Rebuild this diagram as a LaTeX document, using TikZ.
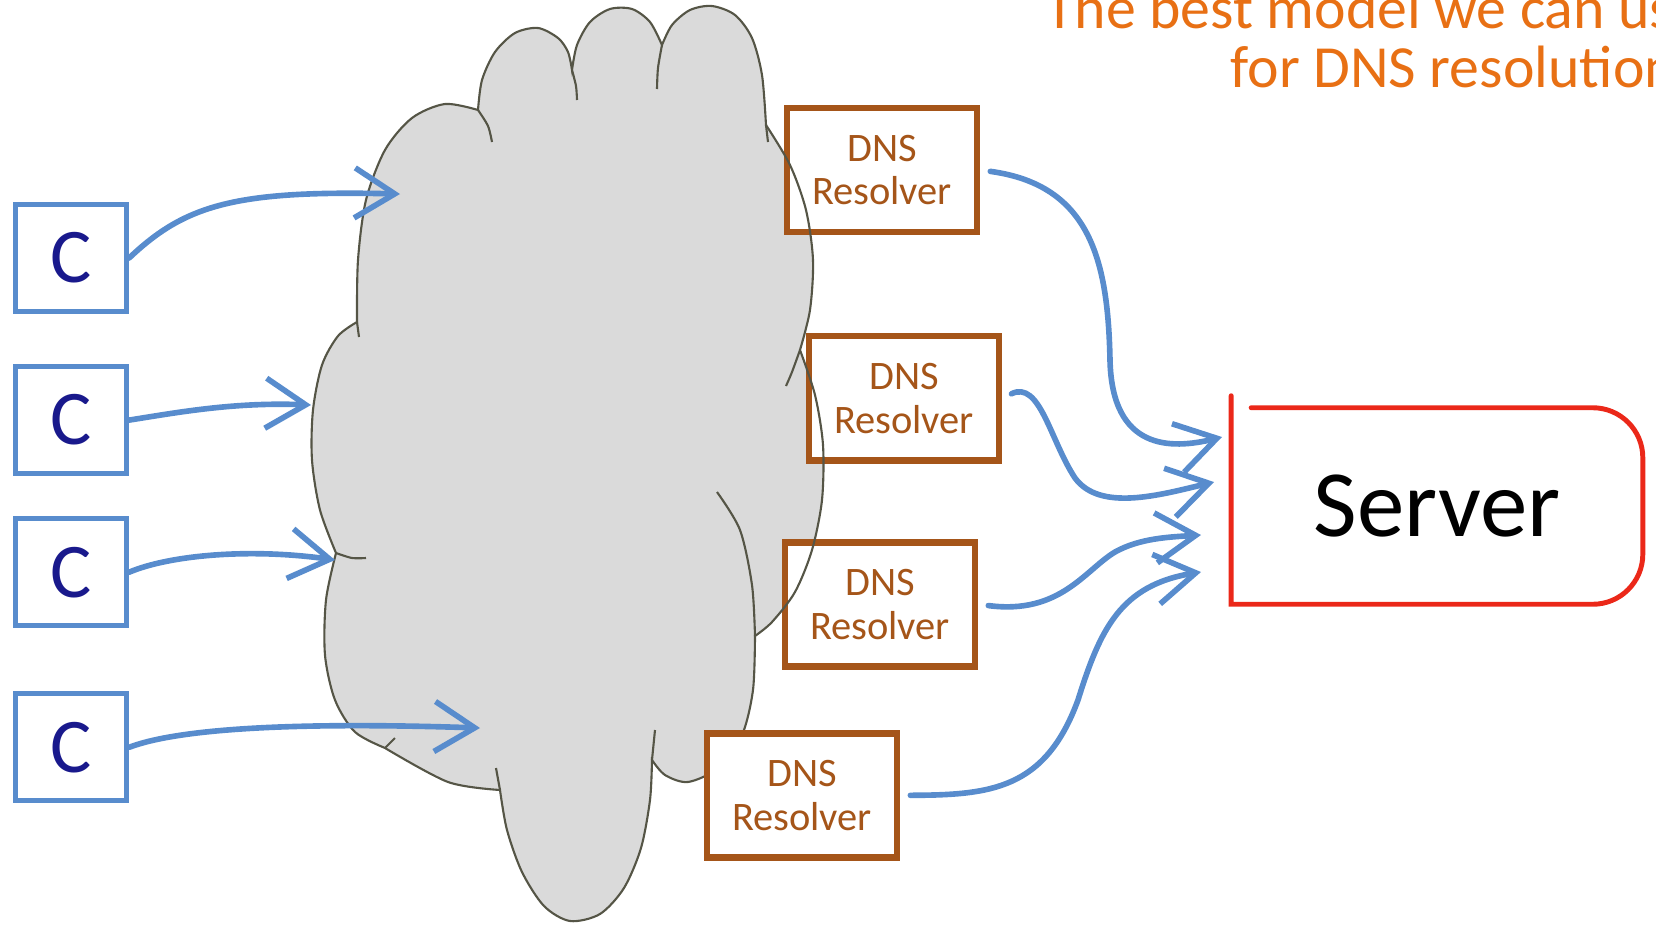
\documentclass[tikz,border=0pt]{standalone}
\usepackage{fontspec}
\setmainfont{Carlito}
\usepackage{tikz}
\usetikzlibrary{arrows.meta}
\definecolor{clientblue}{RGB}{88,140,205}
\definecolor{navyc}{RGB}{25,25,140}
\definecolor{resbrown}{RGB}{165,85,25}
\definecolor{serverred}{RGB}{235,40,25}
\definecolor{cloudgray}{RGB}{218,218,218}
\definecolor{cloudedge}{RGB}{85,85,70}
\definecolor{mottoorange}{RGB}{232,112,20}
\tikzstyle{client} = [rectangle, minimum width=1.11cm, minimum height=1.07cm, text centered, draw=clientblue, fill=white, line width=1.5pt, text=navyc, font=\fontsize{22}{22}\selectfont]
\tikzstyle{resolver} = [rectangle, minimum width=1.9cm, minimum height=1.24cm, align=center, draw=resbrown, fill=white, line width=1.9pt, text=resbrown, font=\fontsize{11.5}{12.5}\selectfont]
\tikzstyle{server} = [rectangle, minimum width=4.1cm, minimum height=1.95cm, text centered, font=\fontsize{27}{27}\selectfont]
\tikzstyle{serverline} = [draw=serverred, line width=1.4pt, line cap=round]
\tikzstyle{cloudfill} = [fill=cloudgray]
\tikzstyle{cloudline} = [draw=cloudedge, line width=0.6pt]
\tikzstyle{arrow} = [draw=clientblue, line width=1.6pt, line cap=round, -{Straight Barb[length=4mm, width=5mm]}]
\tikzstyle{heading} = [text=mottoorange, anchor=base west, inner sep=0pt, font=\fontsize{17}{17}\selectfont]

\begin{document}
\begin{tikzpicture}[x=0.01cm, y=-0.01cm, node distance=2cm]
        \useasboundingbox (0,0) rectangle (1656,927);

        % the cloud
        \path [save path=\cloudpath] plot[smooth] coordinates {(357,322) (358,260) (366,200) (385,150) (412,118) (445,104) (478,110)}
            -- plot[smooth] coordinates {(478,110) (482,80) (495,52) (515,33) (538,28) (558,38) (568,52) (572,70)}
            -- plot[smooth] coordinates {(572,70) (577,45) (590,22) (610,9) (632,9) (650,22) (662,45)}
            -- plot[smooth] coordinates {(662,45) (672,25) (690,10) (712,6) (735,15) (752,38) (762,75) (766,125)}
            -- plot[smooth] coordinates {(766,125) (790,165) (806,210) (813,260) (810,310) (800,350)}
            -- plot[smooth] coordinates {(800,350) (815,395) (823,445) (822,500) (812,550) (795,592) (772,622) (755,636)}
            -- plot[smooth] coordinates {(755,636) (753,690) (742,735) (718,768) (688,782) (665,775) (652,760)}
            -- plot[smooth] coordinates {(652,760) (650,800) (641,848) (624,888) (600,914) (570,921) (544,906) (522,872) (507,830) (500,790)}
            -- plot[smooth] coordinates {(500,790) (448,782) (385,748)}
            -- plot[smooth] coordinates {(385,748) (355,732) (335,700) (325,655) (326,600) (336,553)}
            -- plot[smooth] coordinates {(336,553) (320,510) (312,460) (313,410) (322,365) (338,336) (357,322)}
            -- cycle;
        \path [cloudfill, use path=\cloudpath];

        \node (res1) [resolver] at (882,170) {DNS\\Resolver};
        \node (res2) [resolver, below of=res1, xshift=0.22cm, yshift=-0.28cm] {DNS\\Resolver};
        \node (res3) [resolver, below of=res2, xshift=-0.24cm, yshift=-0.06cm] {DNS\\Resolver};

        \path [cloudline, use path=\cloudpath];
        \draw [cloudline] plot[smooth] coordinates {(478,110) (488,126) (492,142)};
        \draw [cloudline] plot[smooth] coordinates {(572,70) (576,86) (577,100)};
        \draw [cloudline] plot[smooth] coordinates {(662,45) (658,68) (657,89)};
        \draw [cloudline] plot[smooth] coordinates {(766,125) (768,142)};
        \draw [cloudline] plot[smooth] coordinates {(800,350) (792,372) (786,386)};
        \draw [cloudline] plot[smooth] coordinates {(717,492) (740,530) (752,585) (755,636)};
        \draw [cloudline] plot[smooth] coordinates {(652,760) (655,730)};
        \draw [cloudline] plot[smooth] coordinates {(500,790) (496,768)};
        \draw [cloudline] plot[smooth] coordinates {(385,748) (395,738)};
        \draw [cloudline] plot[smooth] coordinates {(336,553) (352,558) (366,558)};
        \draw [cloudline] plot[smooth] coordinates {(357,322) (359,337)};

        \node (res4) [resolver, below of=res3, xshift=-0.78cm, yshift=0.09cm] {DNS\\Resolver};

        \node (cl1) [client] at (71,258) {C};
        \node (cl2) [client, below of=cl1, yshift=0.38cm] {C};
        \node (cl3) [client, below of=cl2, yshift=0.48cm] {C};
        \node (cl4) [client, below of=cl3, yshift=0.25cm] {C};

        \node (srv) [server] at (1437,506) {Server};
        \draw [serverline] ([yshift=0.12cm]srv.north west) -- (srv.south west) -- (srv.south) [rounded corners=0.5cm] -- (srv.south east) -- (srv.north east) -- (srv.north) [sharp corners] -- ([xshift=0.2cm]srv.north west);

        \coordinate (in1) at (400,194);
        \coordinate (in2) at (311,405);
        \coordinate (in3) at (335,560);
        \coordinate (in4) at (480,728);
        \coordinate (to1) at (1222,437);
        \coordinate (to2) at (1214,482);
        \coordinate (to3) at (1201,535);
        \coordinate (to4) at (1201,572);

        \draw [arrow] (cl1.east) .. controls (185,205) and (235,190) .. (in1);
        \draw [arrow] (cl2.east) .. controls (180,412) and (235,402) .. (in2);
        \draw [arrow] (cl3.east) .. controls (170,555) and (250,548) .. (in3);
        \draw [arrow] (cl4.east) .. controls (180,728) and (300,722) .. (in4);

        \draw [arrow, shorten <=0.1cm] (res1.east) .. controls (1090,185) and (1108,260) .. (1110,360) .. controls (1112,450) and (1170,450) .. (to1);
        \draw [arrow, shorten <=0.1cm] (res2.east) .. controls (1040,380) and (1050,440) .. (1075,478) .. controls (1100,512) and (1160,495) .. (to2);
        \draw [arrow, shorten <=0.1cm] (res3.east) .. controls (1060,615) and (1085,570) .. (1115,552) .. controls (1140,538) and (1170,537) .. (to3);
        \draw [arrow, shorten <=0.1cm] (res4.east) .. controls (990,795) and (1045,790) .. (1078,700) .. controls (1100,630) and (1120,585) .. (to4);

        \node (motto1) [heading] at (1045,28) {The best model we can use};
        \node (motto2) [heading] at (1230,87) {for DNS resolution};

    \end{tikzpicture}
\end{document}
